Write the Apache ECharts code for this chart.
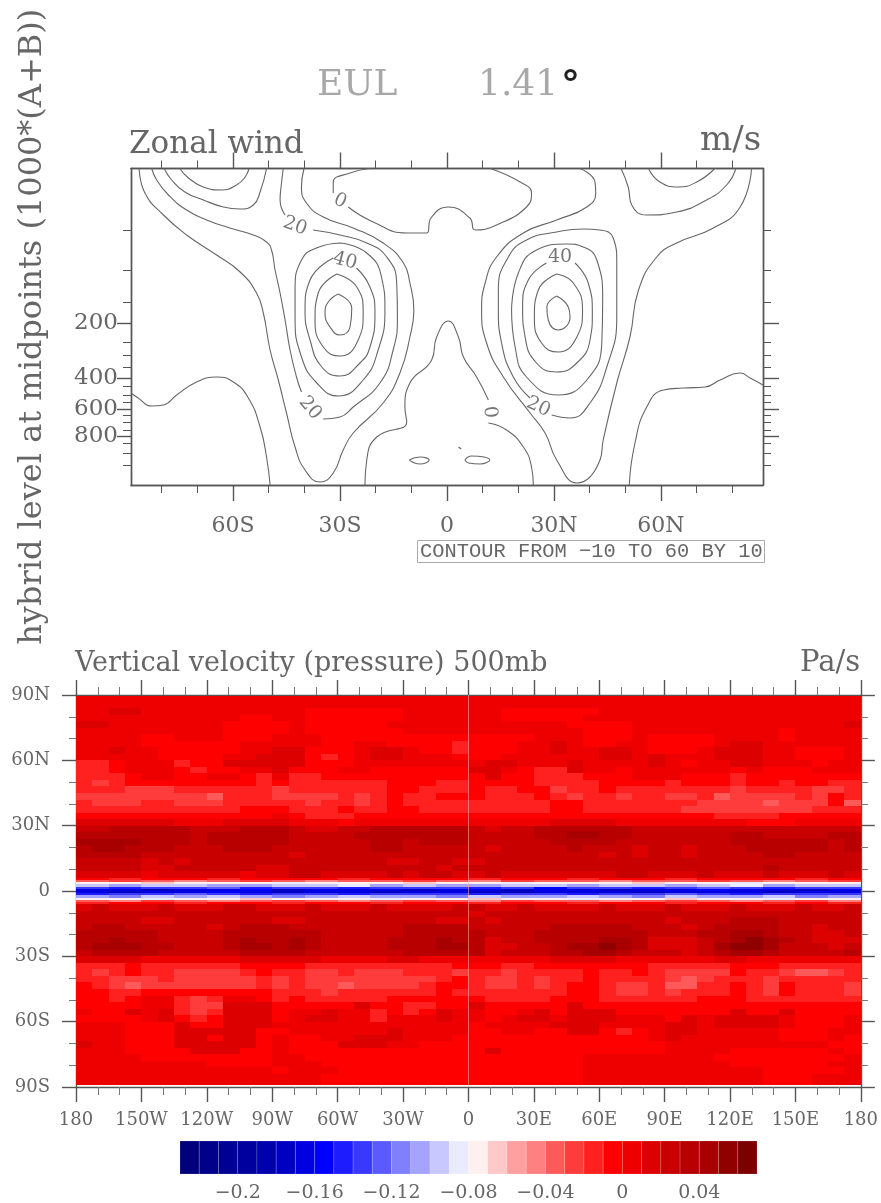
<!DOCTYPE html>
<html lang="en">

<head>
  <meta charset="UTF-8">
  <title>EUL 1.41</title>
  <style>
    * {
      margin: 0;
      padding: 0;
    }
  </style>
  <script src="https://cdn.jsdelivr.net/npm/echarts@6/dist/echarts.min.js"></script>
</head>

<body>
  <div id="main" style="width: 881px; height: 1203px; background: #fff;"></div>
  <script>
    const FONT = 'DejaVu Serif'
    const INK = '#666'

    // ---------- zonal wind: contours as [latitude, log-level], log-level 0 = 200
    const latTop = [-60, -30, 0, 30, 60]
    const latTopNames = ['60S', '30S', '0', '30N', '60N']
    const latTopMinor = [-80, -70, -50, -40, -20, -10, 10, 20, 40, 50, 70, 80]
    const levelNames = [200, 400, 600, 800]
    const levelPos = [0, 55, 86, 113]
    const levelMinorPos = [-93, -53, -21, 19, 32, 44, 63, 72, 79, 92, 99, 107, 120, 130, 142]

    const u20Left = [[-82.8,-154.5],[-81.4,-143],[-78.1,-128],[-73,-113],[-67.4,-103],[-60.9,-95],[-54.3,-88],[-50.6,-81],[-49.2,-73],[-48.2,-53],[-46.8,-30],[-45.4,-3],[-44,27],[-42.2,54],[-40.8,69]]
    const u20LeftJet = [[-34.7,96],[-30,94],[-26.3,84],[-18.8,60],[-15.1,27],[-13.9,-6],[-14.1,-40],[-16.9,-66],[-22.5,-80],[-30,-88],[-37.5,-93]]
    const u20LeftTop = [[-45.4,-108],[-46.8,-123],[-46.4,-140],[-45.9,-154.5]]
    const u10Left = [[-86.3,-154.5],[-84.7,-130],[-79.5,-108],[-73,-88],[-64.6,-68],[-58,-51],[-53.4,-30],[-51.5,-10],[-49.6,27],[-47.3,57],[-45,90],[-42.6,124],[-39.8,147],[-35.6,159],[-31.9,150],[-29.1,127],[-26.3,110],[-17.9,80],[-13.2,50],[-10.4,14],[-9.3,-13],[-10.4,-40],[-12.2,-60],[-17.9,-80],[-26.3,-95],[-34.7,-106],[-39.4,-120],[-40.8,-136],[-40.1,-154.5]]
    const uPolarLeftA = [[-74.9,-154.5],[-72.5,-145],[-68.3,-136],[-63.2,-133],[-59,-138],[-56.6,-146],[-55.5,-154.5]]
    const uPolarLeftB = [[-79.3,-154.5],[-77.2,-143],[-73.5,-131],[-68.3,-123],[-62.7,-116],[-58,-114],[-54.3,-118],[-52.4,-131],[-50.6,-154.5]]
    const u30Left = [[-30,-80],[-22.5,-70],[-18.3,-45],[-17.4,-13],[-19.3,27],[-23.5,57],[-30.5,73],[-36.5,60],[-40.8,34],[-42.6,-6],[-42.6,-33],[-40.8,-63],[-36.6,-75],[-30,-80]]
    const u40Left = [[-25.4,-55],[-21.6,-36],[-20.2,-10],[-21.6,24],[-24.4,40],[-30,53],[-35.1,44],[-38.4,17],[-39.8,-13],[-38.4,-43],[-31.9,-65]]
    const u50Left = [[-30.9,-49],[-25.3,-36],[-23.5,-10],[-24.9,17],[-30,33],[-34.7,24],[-37,-3],[-36.1,-30],[-30.9,-49]]
    const u60Left = [[-30.5,-29],[-26.7,-15],[-27.2,4],[-30,12],[-32.8,4],[-34.2,-10],[-33.3,-21],[-30.5,-29]]
    const uCentre0 = [[-23,162],[-22.5,137],[-19.7,114],[-11.3,99],[-11.8,84],[-10.4,60],[-4.3,37],[-2.9,14],[0.4,-2],[3.2,14],[4.6,34],[8.3,54],[11.6,77]]
    const uCentre0b = [[11.6,100],[16.7,107],[21.4,124],[23.7,144],[24.2,162]]
    const uBelowLeft = [[-88.6,70],[-86.6,75],[-82.8,83],[-79.5,82],[-75.8,72],[-70.2,59],[-64.6,54],[-59.9,59],[-55.7,75],[-52.4,104],[-50.6,134],[-49.6,162]]
    const uUpperA = [[-21.6,-154.5],[-27.2,-150],[-31.9,-141],[-31.9,-130]]
    const uUpperB = [[-27.7,-116],[-20.7,-101],[-11.3,-90],[-5.7,-90],[-4.5,-105],[0.4,-116],[6.4,-105],[7.9,-93],[13.9,-98],[22.3,-116],[23.7,-130],[20.5,-141],[12.1,-154.5]]
    const u10Right = [[37.3,-154.5],[41.5,-141],[41.7,-130],[39.2,-116],[30.75,-103],[21.4,-90],[13.9,-66],[10.7,-40],[9.7,-13],[11.1,20],[15.8,54],[23.3,90],[27.5,110],[30.75,137],[36.4,160],[42.9,137],[43.8,117],[47.6,60],[51.3,14],[53.7,-33],[58.8,-66],[64.4,-80],[74.7,-95],[82.2,-116],[85.4,-154.5]]
    const u20Right = [[29.35,92],[34.5,95],[40.1,80],[44.8,44],[47.6,-6],[47.6,-60],[46.6,-85],[42.9,-93],[38.2,-94],[30.75,-91],[22.3,-83],[17.2,-66],[14.4,-33],[14.4,-13],[15.3,20],[18.6,54],[23.3,75]]
    const u30Right = [[18.1,-13],[19.1,24],[22.3,54],[31.2,72],[39.2,57],[43.4,20],[43.65,-23],[42,-63],[38.2,-76],[33.6,-79],[25.1,-73],[20,-50],[18.1,-13]]
    const u40Right = [[35.9,-60],[39.6,-40],[40.75,-10],[40.1,17],[36.4,40],[30.75,49],[25.1,40],[21.9,14],[21.2,-16],[22.8,-43],[27.9,-60]]
    const u50Right = [[30.75,-49],[35.4,-40],[38,-13],[36.4,14],[31.2,29],[26.5,20],[24.5,-6],[25.6,-33],[30.75,-49]]
    const u60Right = [[30.75,-27],[34,-16],[34.5,-6],[31.2,7],[28.4,-3],[28,-16],[30.75,-27]]
    const uPolarRightA = [[56.5,-154.5],[59.7,-141],[64.9,-136],[70,-141],[75.1,-154.5]]
    const uPolarRightB = [[48.8,-154.5],[50.8,-136],[51.8,-118],[56,-108],[64.4,-111],[72.8,-123],[78.4,-138],[81,-154.5]]
    const uBelowRight = [[51.1,162],[52.7,120],[56,84],[60.7,67],[66.3,65],[72.3,64],[76.6,57],[82.2,50],[85,55],[88.6,62]]
    const uIsleLeft = [[-10.6,137],[-7.6,134],[-5,137],[-7.6,141],[-10.6,137]]
    const uIsleRight = [[5,137],[6.9,133],[12,137],[9.3,141],[6,140],[5,137]]
    const uIsleDot = [[3.2,124],[4,126]]

    const windContours = [u20Left, u20LeftJet, u20LeftTop, u10Left, uPolarLeftA, uPolarLeftB, u30Left, u40Left, u50Left, u60Left,
      uCentre0, uCentre0b, uBelowLeft, uUpperA, uUpperB, u10Right, u20Right, u30Right, u40Right, u50Right, u60Right,
      uPolarRightA, uPolarRightB, uBelowRight, uIsleLeft, uIsleRight, uIsleDot]

    // lat, log-level, text, rotation
    const windLabels = [[-30, -122, '0', -25], [-42.6, -97, '20', -20], [-28.6, -62, '40', -15], [-38.4, 85, '20', -50],
      [31.7, -66, '40', 0], [25.6, 84, '20', -25], [12, 89, '0', -85]]

    // ---------- vertical velocity: one string per latitude band, west to east.
    // Each letter is the class of the value, in 0.01 Pa/s (lower bound):
    // digits 0..6 = 0..0.06, a = -0.01, b = -0.02 ... w = -0.23
    const omegaEdges = [89.4,84,81,78,75,72,69,66,63,60,57,54,51,48,45,42,39,36,33,30,27,24,21,18,15,12,9,6,
      5,4,3,2,1,0,-1,-2,-3,-4,-5,-6,
      -9,-12,-15,-18,-21,-24,-27,-30,-33,-36,-39,-42,-45,-48,-51,-54,-57,-60,-63,-66,-69,-72,-75,-78,-81,-84,-88.9]
    const omegaNorth = [
      '0000000000000 000000000000000000 00000000000000000',
      '0011000000000 0aaaaaa000000aaaaa a0000000000000000',
      '0000000000aa0 0aaaaaa000000aaaaa 00000000000000000',
      '110000000aaaa 0aaaaa00000000000a aaa00000000000001',
      '000000000aaaa 0aaaaaa00000000000 aaa000000000a0000',
      '0000aa000aaa0 00aaaaaaaaaaaaa000 aaa0aaaa0000a0000',
      '0000aaaaaa000 00aa00aaaabaaa0010 aa00aaaa011000000',
      '00100aaaaa001 1aaa0110aabaaa0010 0110aaa011100aaa0',
      '00000aaaa0011 1aba011000aaa00000 0110100011100aaa0',
      'bba000baa1111 1aaa00000000110001 000010a0011000a00',
      'bba000abaa001 aaa00aaaaaa110abb1 00a000000a0aaa000',
      'bbba00aa00ab0 bbaaaaaaaaaa1aabbb aaa000aaabaaaaaaa',
      'bcbaaaaaaaaba bbbbbbaaabbaaaabbb baaaabaaabaabaabb',
      'bbbcccbbbbbbc bbbbbbaabbbabbaacb babbbbbbbcbbbbccb',
      'ccccccccdbbbc cccbcbabbaaabbbabc bbcbbccbdccccbcab',
      'bcccbbcccbbbb bcbbcbabbbbbbbbbaa bbbbbbbccccdcccad',
      'bbbbbbbbbbaaa bbbabbaabbbbbbbbaa bbbbbbccccccccbbb',
      'aaaaaaaaaaaa0 abbbaaaaaaaaaaaaaa aaaaaaaabbbbaaaaa',
      '1111110001111 000a00000000000011 1100000000aaa0000',
      '2233333222333 211223333332122333 33322222222222222',
      '3333333233333 222233333332222334 43322222233222233',
      '4444333233333 222223323332222233 33222222233333323',
      '3443332223332 222223322222122223 22212212223333323',
      '3333222222222 122222222222222222 21212212222332222',
      '2222121222222 222222112211222222 22222222222222222',
      '2222112222211 222222222122222222 22222222222322222',
      '1111011111011 221111212211211111 11221112111211121'
    ]
    const omegaEquator = [
      'abaabaaabaaabaabaabaaaba',
      'dcdedcdeddcdecddeddcdedc',
      'hhghhhihhhghhihhhghhihhh',
      'jkjjkkjjikjkkjjkjjkjikjj',
      'nonnmonnonnnonpnnonmnonn',
      'qqrqqprqqqrqqrqqrqqpqqrq',
      'qrqqpqrqqrqqrrqqqrqqqrqq',
      'onnmnonnonnnonnonnmnonnn',
      'kljkjklkjkkljkkjkljkkjlk',
      'hhihhghhhihhghhihhghhihh',
      'decdedcdedcdecddedcdedce',
      'baabaabaabaabaabaabaabab'
    ]
    const omegaSouth = [
      '1211121112211 121112111122112111 12111211121112112',
      '2222222222222 222222222221222222 22222222222222222',
      '2222112222221 122222222112122222 22222122233322222',
      '2332222212333 222222233332222233 33322212333322122',
      '3333322223333 332222233333222333 33332223344322112',
      '3343322223433 432222333433122333 34431112345432111',
      '3444332223443 432222333443112234 45431112455422212',
      '2333322222333 322222233333122233 44322212344322223',
      '1111000000111 110000110000000011 11000000110000000',
      'bbbabbbbbbaaa abbbbbbbbbaaabbaaa aaaabbbbbaaabbbbb',
      'bcbabbccccbab bccbcccbbbcbbcbbbb abbabccccabbcddcb',
      'bbcccbcccccbc bccccccccbabccbcbb abbbbcdcbbbcbbbbb',
      'abcdcccccccbc bccdccccbaabccbcba abccbddbbabcabbbc',
      'aabbaaaaaaaab bbcbbbbbbabbbbbbba abccbcbbbabcabbbc',
      'aaba00bcb00ab abbbbbaaaaaabbbbaa abbbbbbaaabbbbbbb',
      'aaaa00bcc111a aaaa1aabbaa1aaaaa1 aaaaaaaaaaaaaaaaa',
      '0aa101bcb111a 00100baba100aa01a1 11aaaaaaa1aa1aaaa',
      'aaaa01aba111a 01100b000100a01101 11000a1011110aaa0',
      '000aaa1aa1110 00000000000a000011 1000011011110aaa0',
      '000aaa11111aa 00000010000aa00aa1 1aba01100000aaa00',
      '000aaa11a11a0 aa00111000aaaaaaaa aaaa01000000aaa0a',
      '100aaa11111a0 aaa11100aaaaaaaaaa aaaaa0000000000aa',
      '000aaaa111aa0 aaaaaaaaaaaa1aaaaa aaaaa0000aaaaaa0a',
      '0000aaaaaaaa0 0aaaaaaaaaaaaaaaaa 00000000aaaaaaaa0',
      '00000000aaaa0 00aaaaaaaaaaaaaaaa 000000000aaaaaa00',
      '000000000000a 000aaaaaaaaaaaaaaa 00000000000aaaaa0',
      '0000000000000 00aaaaaaaaaaaaaaaa 00000000000aaa000'
    ]

    // colour bar: 30 classes of 0.01 from -0.23 to 0.07
    const barStart = -23
    const barColors = ['#00007a', '#000088', '#000094', '#00009f', '#0000ad', '#0000c3', '#0000e0', '#0000ff',
      '#1c1cff', '#3838ff', '#5a5aff', '#8080ff', '#a4a4ff', '#c8c8ff', '#ebebff', '#fff0f0', '#ffc8c8', '#ffa0a0',
      '#ff8080', '#ff5a5a', '#ff3c3c', '#ff2020', '#ff0000', '#ee0000', '#dc0000', '#c80000', '#b80000', '#a80000',
      '#900000', '#7c0000']
    const barTicks = [-0.2, -0.16, -0.12, -0.08, -0.04, 0, 0.04]

    const classOf = ch => (ch >= '0' && ch <= '9') ? Number(ch) : -(ch.charCodeAt(0) - 96)

    const omegaRows = omegaNorth.concat(omegaEquator, omegaSouth)
    const omegaCells = []
    omegaRows.forEach((row, r) => {
      const chars = row.replace(/ /g, '')
      const step = 360 / chars.length
      for (let c = 0; c < chars.length; c++) {
        omegaCells.push([-180 + c * step, -180 + (c + 1) * step, omegaEdges[r], omegaEdges[r + 1], classOf(chars[c])])
      }
    })
    const barCells = barColors.map((_, i) => [(barStart + i) / 100, (barStart + i + 1) / 100, 0, 1, barStart + i])

    function renderCell(params, api) {
      const a = api.coord([api.value(0), api.value(2)])
      const b = api.coord([api.value(1), api.value(3)])
      const x = Math.round(a[0]), y = Math.round(a[1])
      return {
        type: 'rect',
        shape: { x, y, width: Math.round(b[0]) - x, height: Math.round(b[1]) - y },
        style: { fill: barColors[api.value(4) - barStart] }
      }
    }
    function renderBarCell(params, api) {
      const a = api.coord([api.value(0), api.value(3)])
      const b = api.coord([api.value(1), api.value(2)])
      return {
        type: 'rect',
        shape: { x: a[0], y: a[1], width: b[0] - a[0], height: b[1] - a[1] },
        style: { fill: barColors[api.value(4) - barStart], stroke: 'rgba(255,255,255,0.25)', lineWidth: 0.6 }
      }
    }

    const frame = { show: true, onZero: false, lineStyle: { color: '#555', width: 1.4 } }
    const tick = (len, custom) => ({ show: true, inside: false, length: len, customValues: custom, lineStyle: { color: '#555', width: len > 10 ? 1.4 : 1 } })
    const noLabel = { show: false }

    // top panel axes: major + minor on each side
    const topX = (position, values, len, label) => ({
      gridIndex: 0, type: 'value', position, min: -88.6, max: 88.6, splitLine: { show: false },
      axisLine: frame, axisTick: tick(len, values), axisLabel: label || noLabel
    })
    const topY = (position, values, len, extra) => Object.assign({
      gridIndex: 0, type: 'value', position, inverse: true, min: -154.5, max: 162, splitLine: { show: false },
      axisLine: frame, axisTick: tick(len, values), axisLabel: noLabel
    }, extra)

    const lonName = v => v === 0 ? '0' : Math.abs(v) === 180 ? '180' : Math.abs(v) + (v < 0 ? 'W' : 'E')
    const latName = v => v === 0 ? '0' : Math.abs(v) + (v < 0 ? 'S' : 'N')
    const mapX = (position, label) => ({
      gridIndex: 1, type: 'value', position, min: -180, max: 180, interval: 30, splitLine: { show: false },
      axisLine: frame, axisTick: { length: 15, lineStyle: { color: '#555', width: 1.4 } },
      minorTick: { show: true, splitNumber: 3, length: 8, lineStyle: { color: '#777' } }, axisLabel: label
    })
    const mapY = (position, label) => ({
      gridIndex: 1, type: 'value', position, min: -90, max: 90, interval: 30, splitLine: { show: false },
      axisLine: frame, axisTick: { length: 14, lineStyle: { color: '#555', width: 1.4 } },
      minorTick: { show: true, splitNumber: 3, length: 7, lineStyle: { color: '#777' } }, axisLabel: label
    })

    const text = (t, left, top, size, color) => ({
      text: t, left, top, textStyle: { fontFamily: FONT, fontSize: size, fontWeight: 'normal', color: color || INK }, padding: 0
    })

    const option = {
      animation: false,
      backgroundColor: '#fff',
      title: [
        text('EUL', 317, 68, 36, '#a8a8a8'),
        text('1.41', 478, 68, 36, '#a8a8a8'),
        { text: '°', left: 561, top: 68, padding: 0, textStyle: { fontFamily: FONT, fontSize: 38, fontWeight: 'bold', color: '#222' } },
        text('Zonal wind', 129, 129, 31),
        text('m/s', 700, 124, 34),
        text('Vertical velocity (pressure) 500mb', 75, 650, 27),
        text('Pa/s', 800, 649, 29),
        {
          text: 'CONTOUR FROM −10 TO 60 BY 10', left: 417, top: 540, padding: [2, 2, 1, 3],
          borderColor: '#aaa', borderWidth: 1,
          textStyle: { fontFamily: 'Liberation Mono', fontSize: 20.4, fontWeight: 'normal', color: INK }
        }
      ],
      grid: [
        { left: 131, top: 168.5, width: 632, height: 316.5 },
        { left: 76, top: 695, width: 785, height: 392 },
        { left: 180, top: 1141, width: 577, height: 34 }
      ],
      xAxis: [
        topX('bottom', latTop, 16, {
          show: true, margin: 30, customValues: latTop, fontFamily: FONT, fontSize: 22, color: INK,
          formatter: v => latTopNames[latTop.indexOf(v)]
        }),
        topX('bottom', latTopMinor, 8),
        topX('top', latTop, 16),
        topX('top', latTopMinor, 8),
        mapX('bottom', { show: true, margin: 24, fontFamily: FONT, fontSize: 18, color: INK, formatter: lonName }),
        mapX('top', noLabel),
        {
          gridIndex: 2, type: 'value', position: 'bottom', min: -0.23, max: 0.07, splitLine: { show: false },
          axisLine: { show: false }, axisTick: { show: false },
          axisLabel: {
            show: true, customValues: barTicks, margin: 10, fontFamily: FONT, fontSize: 19, color: INK,
            formatter: v => String(v).replace('-', '−')
          }
        }
      ],
      yAxis: [
        topY('left', levelPos, 14, {
          name: 'hybrid level at midpoints (1000*(A+B))', nameLocation: 'middle', nameGap: 82, nameRotate: 90,
          nameTextStyle: { fontFamily: FONT, fontSize: 32, color: INK },
          axisLabel: {
            show: true, customValues: levelPos, margin: 13, fontFamily: FONT, fontSize: 23, color: INK,
            formatter: v => levelNames[levelPos.indexOf(v)]
          }
        }),
        topY('left', levelMinorPos, 8),
        topY('right', levelPos, 16),
        topY('right', levelMinorPos, 8),
        mapY('left', { show: true, margin: 26, fontFamily: FONT, fontSize: 18, color: INK, formatter: latName }),
        mapY('right', noLabel),
        { gridIndex: 2, type: 'value', min: 0, max: 1, show: false }
      ],
      series: [
        ...windContours.map(path => ({
          type: 'line', xAxisIndex: 0, yAxisIndex: 0, data: path, smooth: 0.5, symbol: 'none', silent: true,
          lineStyle: { color: '#666', width: 1.1 }
        })),
        {
          type: 'scatter', xAxisIndex: 0, yAxisIndex: 0, symbolSize: 0,
          data: windLabels.map(d => ({
            value: [d[0], d[1]],
            label: { show: true, position: 'inside', formatter: d[2], rotate: d[3], fontFamily: FONT, fontSize: 19, color: '#555' }
          }))
        },
        {
          type: 'custom', xAxisIndex: 4, yAxisIndex: 4, renderItem: renderCell, data: omegaCells, progressive: 0,
          encode: { x: [0, 1], y: [2, 3] }, silent: true,
          markLine: {
            silent: true, symbol: 'none', label: { show: false }, data: [{ xAxis: 0 }],
            lineStyle: { color: 'rgba(255,170,170,0.6)', width: 1, type: 'solid' }
          }
        },
        {
          type: 'custom', xAxisIndex: 6, yAxisIndex: 6, renderItem: renderBarCell, data: barCells, progressive: 0,
          encode: { x: [0, 1], y: [2, 3] }, silent: true
        }
      ]
    }

    const chart = echarts.init(document.getElementById('main'))
    chart.setOption(option)
  </script>
</body>

</html>
